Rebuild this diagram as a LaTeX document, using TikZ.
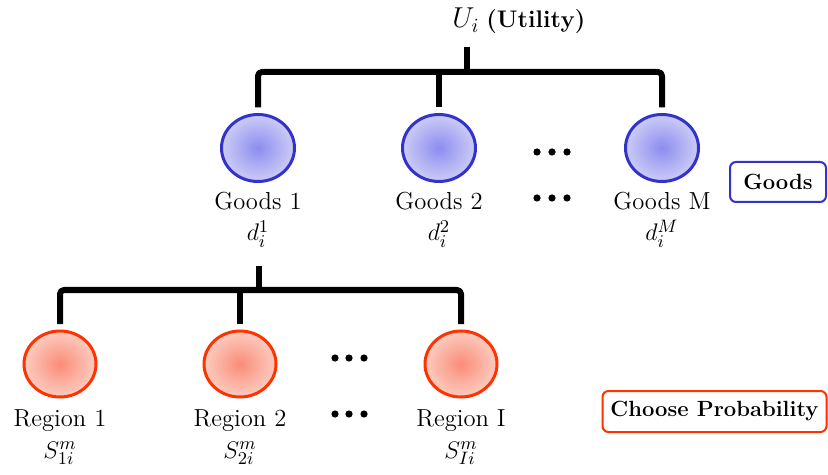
\documentclass[tikz,border=0pt]{standalone}
\usetikzlibrary{positioning,shapes.geometric}
\definecolor{goodsline}{RGB}{51,51,204}
\definecolor{goodsin}{RGB}{140,140,240}
\definecolor{goodsout}{RGB}{204,204,246}
\definecolor{regionline}{RGB}{255,51,0}
\definecolor{regionin}{RGB}{250,140,120}
\definecolor{regionout}{RGB}{252,204,192}
\tikzset{
  branch/.style={line width=3pt,line cap=butt,line join=round,rounded corners=2pt},
  goods/.style={ellipse,draw=goodsline,line width=1.5pt,inner color=goodsin,outer color=goodsout,
    minimum width=36.5pt,minimum height=33.5pt,inner sep=0pt,outer sep=3.5pt},
  region/.style={ellipse,draw=regionline,line width=1.5pt,inner color=regionin,outer color=regionout,
    minimum width=36pt,minimum height=33pt,inner sep=0pt,outer sep=3.5pt},
  lbl/.style={anchor=base,inner sep=0pt,font=\fontsize{12.3}{14}\selectfont},
  tag/.style={draw=#1,line width=1pt,rounded corners=3pt,inner sep=0pt,
    font=\fontsize{11}{13}\selectfont\bfseries}
}
\begin{document}
\begin{tikzpicture}[x=0.5pt,y=-0.5pt]
  \useasboundingbox (0,0) rectangle (828,475);

  % utility on top
  \node[lbl,font=\fontsize{14}{16}\selectfont] (util) at (466,28) {$U_i$};
  \node[lbl,anchor=base west,font=\fontsize{12}{14}\selectfont\bfseries] (utilname) at (486,28) {(Utility)};

  % goods level
  \node[goods] (g1) at (258,148) {};
  \node[goods] (g2) at (439,148) {};
  \node[goods] (gM) at (662,148) {};
  \node[lbl] (g1name) at (258,210) {Goods 1};
  \node[lbl] (g2name) at (439,210) {Goods 2};
  \node[lbl] (gMname) at (662,210) {Goods M};
  \node[lbl] (d1) at (258,241) {$d_i^1$};
  \node[lbl] (d2) at (439,241) {$d_i^2$};
  \node[lbl] (dM) at (662,241) {$d_i^M$};

  % region level
  \node[region] (r1) at (60,364) {};
  \node[region] (r2) at (240,364) {};
  \node[region] (rI) at (461,364) {};
  \node[lbl] (r1name) at (60,426) {Region 1};
  \node[lbl] (r2name) at (240,426) {Region 2};
  \node[lbl] (rIname) at (461,426) {Region I};
  \node[lbl] (s1) at (60,458) {$S_{1i}^m$};
  \node[lbl] (s2) at (240,458) {$S_{2i}^m$};
  \node[lbl] (sI) at (461,458) {$S_{Ii}^m$};

  % dots
  \foreach \y in {152,198} {
    \foreach \x in {537,552,567} \fill (\x,\y) circle (1.8pt);
  }
  \foreach \y in {358,414} {
    \foreach \x in {335,349,364} \fill (\x,\y) circle (1.8pt);
  }

  % tree branches
  \coordinate (ubar) at (467,72);
  \coordinate (gbar) at (259,290);
  \draw[branch,shorten <=7pt] (ubar |- util.south) -- (ubar);
  \draw[branch] (g1.north) -- (g1.north |- ubar) -- (gM.north |- ubar) -- (gM.north);
  \draw[branch] (g2.north) -- (g2.north |- ubar);
  \draw[branch,shorten <=9pt] (gbar |- d1.south) -- (gbar);
  \draw[branch] (r1.north) -- (r1.north |- gbar) -- (rI.north |- gbar) -- (rI.north);
  \draw[branch] (r2.north) -- (r2.north |- gbar);

  % level tags
  \node[tag=goodsline,minimum width=48pt,minimum height=20pt] (goodstag) at (778,182) {Goods};
  \node[tag=regionline,minimum width=112pt,minimum height=20.5pt] (probtag) at (714.5,411.5) {Choose Probability};
\end{tikzpicture}
\end{document}
